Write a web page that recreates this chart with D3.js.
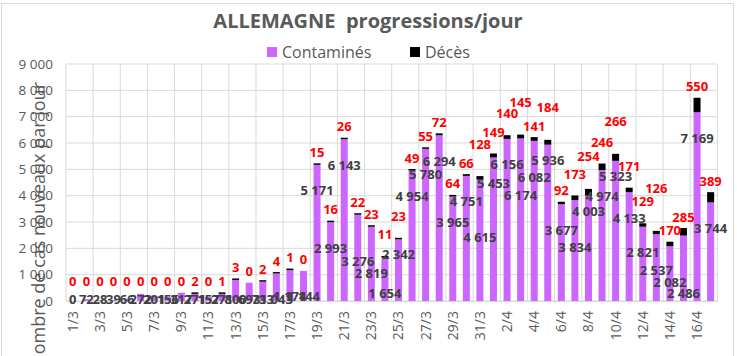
<!DOCTYPE html>
<html><head><meta charset="utf-8">
<script src="https://cdn.jsdelivr.net/npm/d3@7"></script>
<style>body{margin:0;background:#fff}svg{display:block}</style>
</head><body><div id="c"></div>
<script>
const dates = [];
for (let d = 1; d <= 31; d++) dates.push(d + "/3");
for (let d = 1; d <= 17; d++) dates.push(d + "/4");
const contamines = [0,72,28,39,66,272,201,156,317,271,157,271,800,693,733,1043,1174,1144,
  5171,2993,6143,3276,2819,1654,2342,4954,5780,6294,3965,4751,4615,5453,6156,6174,6082,5936,
  3677,3834,4003,4974,5323,4133,2821,2537,2082,2486,7169,3744];
const deces = [0,0,0,0,0,0,0,0,0,2,0,1,3,0,2,4,1,0,15,16,26,22,23,11,23,49,55,72,64,66,128,149,
  140,145,141,184,92,173,254,246,266,171,129,126,170,285,550,389];
const yTicks = [0,1000,2000,3000,4000,5000,6000,7000,8000,9000];
const title = "ALLEMAGNE  progressions/jour";
const yTitle = "Nombre de cas nouveaux par jour";
const seriesNames = ["Contaminés", "Décès"];

const W = 737, H = 356;
const m = {left: 66, right: 737 - 717.4, top: 64, bottom: 356 - 301};
const font = "'Open Sans', 'Liberation Sans', sans-serif";
const svg = d3.select("#c").append("svg").attr("width", W).attr("height", H)
  .style("font-family", font);

// outer border
svg.append("rect").attr("x", 1.5).attr("y", 3.5).attr("width", 732).attr("height", 360)
  .attr("fill", "none").attr("stroke", "#d9d9d9");

const xb = d3.scaleBand().domain(dates).range([m.left, W - m.right]);
const y = d3.scaleLinear().domain([0, 9000]).range([H - m.bottom, m.top]);
const fmt = v => d3.format(",")(v).replace(/,/g, " ");
const cx = d => xb(d) + xb.bandwidth() / 2;

// horizontal grid
svg.append("g").selectAll("line").data(yTicks).join("line")
  .attr("x1", m.left).attr("x2", W - m.right)
  .attr("y1", d => y(d)).attr("y2", d => y(d))
  .attr("stroke", "#d9d9d9").attr("stroke-width", 1);
// vertical grid every 2 categories
const vIdx = d3.range(0, dates.length + 1, 2);
svg.append("g").selectAll("line").data(vIdx).join("line")
  .attr("x1", i => i < dates.length ? xb(dates[i]) : xb(dates[dates.length-1]) + xb.bandwidth())
  .attr("x2", i => i < dates.length ? xb(dates[i]) : xb(dates[dates.length-1]) + xb.bandwidth())
  .attr("y1", y(9000)).attr("y2", y(0))
  .attr("stroke", "#d9d9d9").attr("stroke-width", 1);

// y axis labels
const yAxis = d3.axisLeft(y).tickValues(yTicks).tickFormat(fmt).tickSize(0).tickPadding(13);
const ya = svg.append("g").attr("transform", `translate(${m.left},0)`).call(yAxis);
ya.select(".domain").remove();
ya.selectAll("text").attr("fill", "#595959").style("font-size", "13.5px").style("font-family", font);

// x axis
const xAxis = d3.axisBottom(xb).tickValues(dates.filter((d, i) => i % 2 === 0)).tickSize(0).tickPadding(0);
const xa = svg.append("g").attr("transform", `translate(0,${y(0)})`).call(xAxis);
xa.select(".domain").attr("stroke", "#d9d9d9");
xa.selectAll("text").attr("fill", "#595959").style("font-size", "14px").style("font-family", font)
  .attr("transform", "rotate(-90)").attr("text-anchor", "end").attr("dy", "0.35em")
  .attr("y", 0).attr("x", -10);

// bars
const rows = dates.map((d, i) => ({d, i, c: contamines[i], k: deces[i]}));
const bw = 7;
const capTop = r => Math.min(y(r.c + r.k), y(r.c) - (r.k > 0 ? 1.5 : 0));
const g = svg.append("g");
g.selectAll("rect.c").data(rows).join("rect").attr("class", "c")
  .attr("x", r => cx(r.d) - bw / 2).attr("width", bw)
  .attr("y", r => y(r.c)).attr("height", r => y(0) - y(r.c)).attr("fill", "#cc66ff");
g.selectAll("rect.k").data(rows).join("rect").attr("class", "k")
  .attr("x", r => cx(r.d) - bw / 2).attr("width", bw)
  .attr("y", capTop)
  .attr("height", r => r.k > 0 ? y(r.c) - capTop(r) : 0).attr("fill", "#000");

// labels with greedy collision avoidance (shared obstacle list)
const STEP = 10.5, GAP = 10;
const placed = [];
function place(sel, baseY, order, lo, hi, fixed) {
  sel.each(function(r) {
    const w = this.getComputedTextLength();
    const x0 = cx(r.d) - w / 2, x1 = cx(r.d) + w / 2;
    const b = baseY(r);
    let yy = b;
    if (!fixed(r)) {
      for (const k of order) {
        const cand = b + k * STEP;
        if (cand < lo || cand > hi) continue;
        const hit = placed.some(p => x0 < p.x1 && x1 > p.x0 && Math.abs(cand - p.y) < GAP);
        if (!hit) { yy = cand; break; }
      }
      placed.push({x0, x1, y: yy});
    }
    d3.select(this).attr("y", yy);
  });
}
const base = y(0) - 2;
const cl = g.selectAll("text.cl").data(rows).join("text").attr("class", "cl")
  .attr("x", r => cx(r.d))
  .attr("dy", "0.35em").attr("text-anchor", "middle")
  .attr("fill", "#404040").style("font-size", "13px").style("font-weight", "bold")
  .text(r => fmt(r.c));
place(cl, r => Math.min(y(r.c) + 26, base), [0, 1, 2, 3, -1, 4, 5, 6],
  m.top, base, r => y(r.c) + 26 >= base);

const kl = g.selectAll("text.kl").data(rows).join("text").attr("class", "kl")
  .attr("x", r => cx(r.d))
  .attr("dy", "0.35em").attr("text-anchor", "middle")
  .attr("fill", "#ff0000").style("font-size", "13px").style("font-weight", "bold")
  .text(r => fmt(r.k));
place(kl, r => Math.min(capTop(r) - 11, y(0) - 20), [0, -1, -2, -3, -4],
  m.top - 10, y(0), r => capTop(r) - 11 >= y(0) - 20);

// title
svg.append("text").attr("x", 368).attr("y", 21).attr("dy", "0.35em").attr("text-anchor", "middle")
  .attr("xml:space", "preserve").style("white-space", "pre")
  .attr("fill", "#595959").style("font-size", "20px").style("font-weight", "bold").text(title);

// legend
const leg = svg.append("g");
const legItems = [{n: seriesNames[0], c: "#cc66ff", x: 267}, {n: seriesNames[1], c: "#000", x: 410}];
leg.selectAll("rect").data(legItems).join("rect")
  .attr("x", d => d.x).attr("y", 47).attr("width", 10).attr("height", 10).attr("fill", d => d.c);
leg.selectAll("text").data(legItems).join("text")
  .attr("x", d => d.x + 15).attr("y", 52).attr("dy", "0.35em")
  .attr("fill", "#595959").style("font-size", "16px").text(d => d.n);

// y title
svg.append("text").attr("transform", "translate(39,82) rotate(-90)")
  .attr("text-anchor", "end").attr("dy", "0.35em")
  .attr("fill", "#595959").style("font-size", "18px").text(yTitle);
</script></body></html>
